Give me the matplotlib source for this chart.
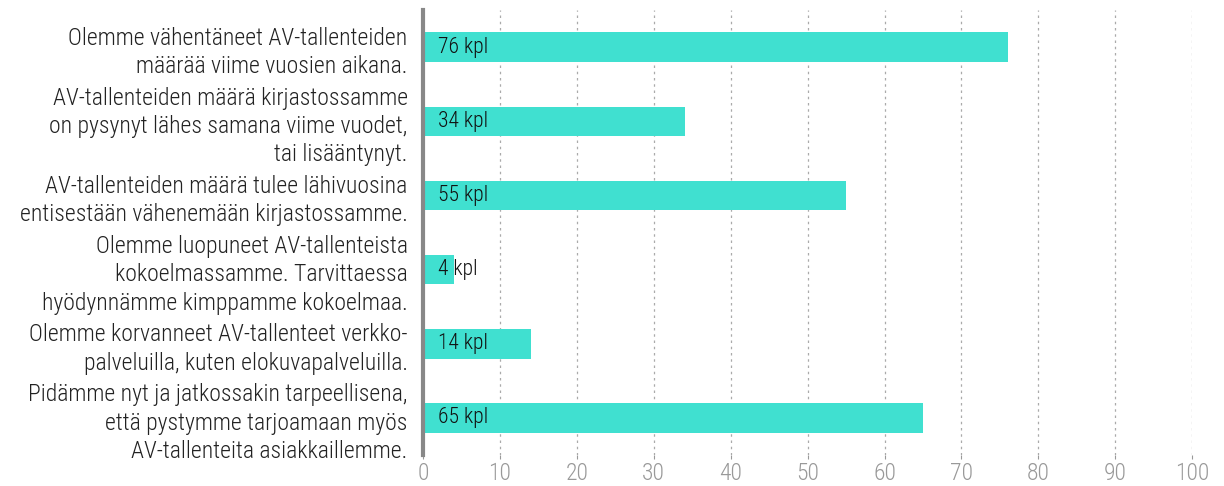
import matplotlib
matplotlib.use("Agg")
import matplotlib.pyplot as plt

plt.rcParams['font.family'] = ['Roboto Condensed', 'Roboto', 'DejaVu Sans']
plt.rcParams['font.weight'] = 'light'

categories = [
    "Olemme vähentäneet AV-tallenteiden\nmäärää viime vuosien aikana.",
    "AV-tallenteiden määrä kirjastossamme\non pysynyt lähes samana viime vuodet,\ntai lisääntynyt.",
    "AV-tallenteiden määrä tulee lähivuosina\nentisestään vähenemään kirjastossamme.",
    "Olemme luopuneet AV-tallenteista\nkokoelmassamme. Tarvittaessa\nhyödynnämme kimppamme kokoelmaa.",
    "Olemme korvanneet AV-tallenteet verkko-\npalveluilla, kuten elokuvapalveluilla.",
    "Pidämme nyt ja jatkossakin tarpeellisena,\nettä pystymme tarjoamaan myös\nAV-tallenteita asiakkaillemme.",
]
values = [76, 34, 55, 4, 14, 65]
xticks = list(range(0, 101, 10))

fig = plt.figure(figsize=(12.24, 4.86), dpi=100)
ax = fig.add_axes([0.3456, 0.064, 0.6284, 0.915])

ypos = list(range(len(values)))
ax.barh(ypos, values, height=0.4, color='#40E0D0', zorder=2)
for y, v in zip(ypos, values):
    ax.text(2, y, f"{v} kpl", va='center', ha='left', fontsize=15.5, color='#111111', zorder=3)

ax.set_ylim(len(values) - 0.5, -0.5)
ax.set_xlim(0, 100)
ax.set_yticks(ypos)
ax.set_yticklabels(categories, fontsize=17, color='#222222', linespacing=1.3)
ax.set_xticks(xticks)
ax.set_xticklabels([str(t) for t in xticks], fontsize=17, color='#999999')
ax.tick_params(axis='y', length=0, pad=11)
ax.tick_params(axis='x', length=3, color='#999999', pad=2)

for t in xticks[1:]:
    ax.axvline(t, color='#aaaaaa', linestyle=(0, (2, 3)), linewidth=0.9, zorder=1)

for s in ['top', 'right', 'bottom']:
    ax.spines[s].set_visible(False)
ax.spines['left'].set_color('#888888')
ax.spines['left'].set_linewidth(3)
ax.spines['left'].set_zorder(4)

fig.savefig('out.png', dpi=100)
